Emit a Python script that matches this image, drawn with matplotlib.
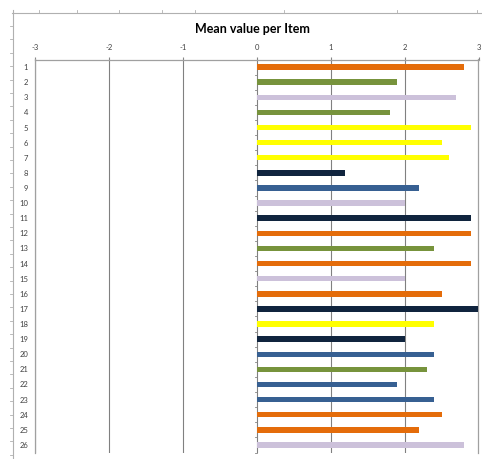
import matplotlib.pyplot as plt
from matplotlib.lines import Line2D

# dados
itens = [str(i) for i in range(1, 27)]
medias = [2.8, 1.9, 2.7, 1.8, 2.9, 2.5, 2.6, 1.2, 2.2, 2.0, 2.9, 2.9, 2.4,
          2.9, 2.0, 2.5, 3.0, 2.4, 2.0, 2.4, 2.3, 1.9, 2.4, 2.5, 2.2, 2.8]
grupos = ['laranja', 'verde', 'lilas', 'verde', 'amarelo', 'amarelo', 'amarelo',
          'marinho', 'azul', 'lilas', 'marinho', 'laranja', 'verde', 'laranja',
          'lilas', 'laranja', 'marinho', 'amarelo', 'marinho', 'azul', 'verde',
          'azul', 'azul', 'laranja', 'laranja', 'lilas']
paleta = {'laranja': '#E46C0A', 'verde': '#77933C', 'lilas': '#CCC1DA',
          'amarelo': '#FFFF00', 'marinho': '#10243E', 'azul': '#376092'}
ticks_x = [-3, -2, -1, 0, 1, 2, 3]

plt.rcParams['font.family'] = ['Lato', 'DejaVu Sans']

fig = plt.figure(figsize=(4.82, 4.59), dpi=100)
W, H = 482, 459
ax = fig.add_axes([35 / W, 1 - 452.5 / H, (478.5 - 35) / W, (452.5 - 59.5) / H])

posicoes = list(range(len(itens)))
ax.barh(posicoes, medias, height=0.36, color=[paleta[g] for g in grupos], zorder=3)

ax.set_xlim(-3, 3)
ax.set_ylim(len(itens) - 0.5, -0.5)
ax.set_xticks(ticks_x)
ax.set_xticklabels([str(t) for t in ticks_x])
ax.xaxis.tick_top()
ax.tick_params(axis='x', length=2, width=0.8, color='#868686', labelsize=5.5, pad=4,
               labelcolor='#404040')
ax.set_yticks(posicoes)
ax.set_yticklabels(itens)
ax.tick_params(axis='y', length=0, labelsize=5.5, pad=5, labelcolor='#404040')

ax.grid(axis='x', color='#808080', linewidth=0.8, zorder=1)
ax.spines['bottom'].set_visible(False)
for lado in ['top', 'left', 'right']:
    ax.spines[lado].set_color('#a0a0a0')
    ax.spines[lado].set_linewidth(0.9)

# pequenos ticks do eixo no zero
for k in range(1, len(itens) + 1):
    ax.plot([-0.03, 0], [k - 0.5, k - 0.5], color='#868686', lw=0.6, zorder=2,
            clip_on=False)

fig.text(252 / W, 1 - 29 / H, 'Mean value per Item', ha='center', va='center',
         fontsize=9, fontweight='bold', color='black')

# regua da planilha ao fundo
cinza = '#b0b0b0'
fig.add_artist(Line2D([12 / W, 1], [1 - 13 / H, 1 - 13 / H], color=cinza, lw=0.8))
fig.add_artist(Line2D([13 / W, 13 / W], [1 - 10 / H, 0], color=cinza, lw=0.8))
for xc in [39, 77, 119, 162, 195, 284, 397, 477]:
    fig.add_artist(Line2D([xc / W, xc / W], [1 - 10 / H, 1 - 13 / H], color=cinza, lw=0.6))
yc = 26
while yc < H:
    fig.add_artist(Line2D([10 / W, 13 / W], [1 - yc / H, 1 - yc / H], color=cinza, lw=0.6))
    yc += 13.4

plt.savefig('out.png', dpi=100)
plt.close()
